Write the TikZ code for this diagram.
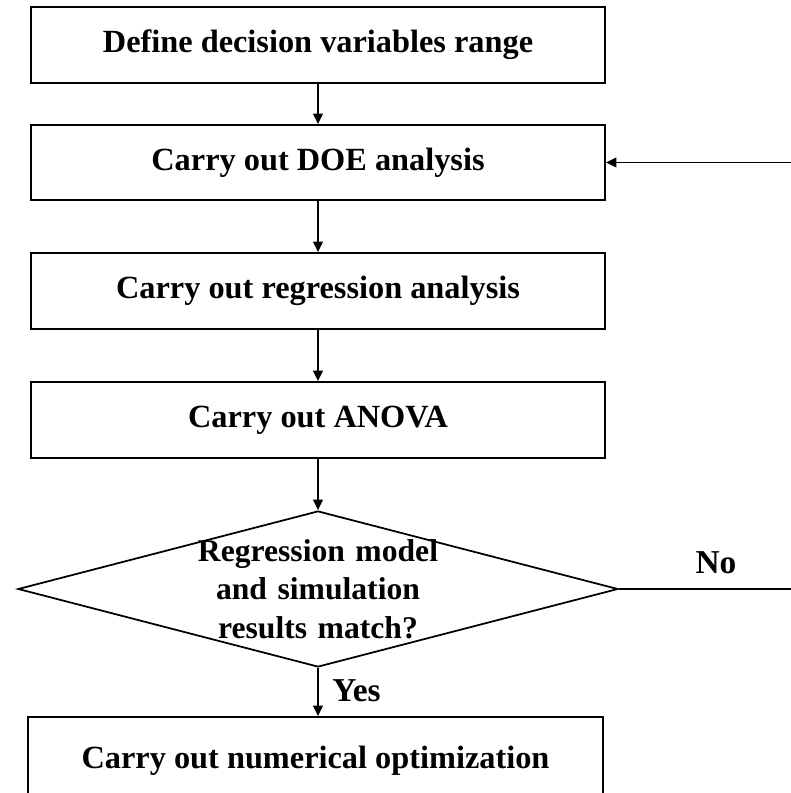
\documentclass[tikz,border=0pt]{standalone}
\usepackage{fontspec}
\setmainfont{Liberation Serif}
\usepackage{tikz}
\usetikzlibrary{arrows.meta}
\usetikzlibrary{shapes.geometric}
\tikzset{
  procbox/.style={draw, line width=1pt, inner sep=0pt, minimum width=11.48cm,
    minimum height=1.52cm, font=\bfseries\fontsize{18.4}{22}\selectfont},
  decision/.style={draw, diamond, line width=1pt, inner sep=-0.3cm, aspect=3.85,
    minimum width=12cm, minimum height=3.12cm, text width=5cm, align=center,
    font=\bfseries\fontsize{18}{22}\selectfont},
  answer/.style={font=\bfseries\fontsize{19}{22}\selectfont},
  flow/.style={line width=1pt, -{Triangle[length=6pt,width=5.5pt]}}
}
\begin{document}
\begin{tikzpicture}
\useasboundingbox (0,0) rectangle (15.8,-15.86);
\node (range) at (6.36,-0.90)[procbox] {Define decision variables range};
\node (doe) at (6.36,-3.25)[procbox, minimum height=1.50cm] {Carry out DOE analysis};
\node (regr) at (6.36,-5.82)[procbox] {Carry out regression analysis};
\node (anova) at (6.36,-8.40)[procbox] {Carry out ANOVA};
\node (check) at (6.36,-11.78)[decision] {Regression model\\ and simulation\\ results match?};
\node (optim) at (6.31,-15.22)[procbox, minimum width=11.50cm, minimum height=1.76cm] {Carry out numerical optimization};
\node (no) at (14.32,-11.26)[answer] {No};
\node (yes) at (7.13,-13.82)[answer] {Yes};
\coordinate (loopturn) at (16.3,-11.78);
\draw[flow] (range) -- (doe);
\draw[flow] (doe) -- (regr);
\draw[flow] (regr) -- (anova);
\draw[flow] (anova) -- (check);
\draw[flow] (check.south) -- (optim.north -| check.south);
\draw[flow] (check.east) -- (loopturn) |- (doe.east);
\end{tikzpicture}
\end{document}
